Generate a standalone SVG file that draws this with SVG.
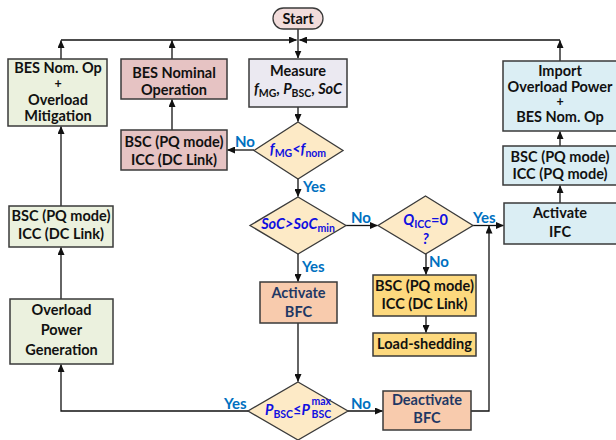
<svg xmlns="http://www.w3.org/2000/svg" width="616" height="440" viewBox="0 0 616 440">
  <style>
    .box { stroke: #3a3a3a; stroke-width: 1.5; }
    .green { fill: #ebf1de; }
    .pink { fill: #e6c3c3; }
    .lav { fill: #ebe9f1; }
    .blue { fill: #dbeef4; }
    .peach { fill: #f8cbad; }
    .yellow { fill: #fdd97e; }
    .dia { fill: #fdeac6; stroke: #3a3a3a; stroke-width: 1.3; }
    .t { font-family: Lato, "Open Sans", sans-serif; font-weight: bold; font-size: 14.5px; fill: #111; text-anchor: middle; }
    .plus { font-size: 12.5px; }
    .navy { fill: #1f3864; }
    .cond { font-family: Lato, "Open Sans", sans-serif; font-weight: bold; font-style: italic; font-size: 14.5px; fill: #1010e0; }
    .sub { font-style: normal; font-size: 10.5px; }
    .lbl { font-family: Lato, "Open Sans", sans-serif; font-weight: bold; font-size: 15px; fill: #0070c0; }
    .wire { fill: none; stroke: #111; stroke-width: 1.3; }
  </style>
  <defs>
    <marker id="arr" markerWidth="8" markerHeight="7" refX="7.5" refY="3.5" orient="auto" markerUnits="userSpaceOnUse">
      <path d="M0,0 L8,3.5 L0,7 z" fill="#111"/>
    </marker>
  </defs>

  <rect width="616" height="440" fill="#fff"/>

  <!-- connectors -->
  <g id="connectors">
    <path class="wire" d="M298,29 V58" marker-end="url(#arr)"/>
    <path class="wire" d="M61,40 H296.5" marker-end="url(#arr)"/>
    <path class="wire" d="M560,40 H299.5" marker-end="url(#arr)"/>
    <path class="wire" d="M61,59 V40.5" marker-end="url(#arr)"/>
    <path class="wire" d="M172,59 V40.5" marker-end="url(#arr)"/>
    <path class="wire" d="M560,61 V40.5" marker-end="url(#arr)"/>
    <path class="wire" d="M172,130 V99.5" marker-end="url(#arr)"/>
    <path class="wire" d="M298,107 V121.5" marker-end="url(#arr)"/>
    <path class="wire" d="M254,150 H227.5" marker-end="url(#arr)"/>
    <path class="wire" d="M298,179 V196.5" marker-end="url(#arr)"/>
    <path class="wire" d="M346,225.5 H377.5" marker-end="url(#arr)"/>
    <path class="wire" d="M473,225.5 H503.5" marker-end="url(#arr)"/>
    <path class="wire" d="M560,203 V185.5" marker-end="url(#arr)"/>
    <path class="wire" d="M560,146 V131.5" marker-end="url(#arr)"/>
    <path class="wire" d="M426,254 V274.5" marker-end="url(#arr)"/>
    <path class="wire" d="M426,316 V332.5" marker-end="url(#arr)"/>
    <path class="wire" d="M298,254 V281.5" marker-end="url(#arr)"/>
    <path class="wire" d="M298,323 V381.5" marker-end="url(#arr)"/>
    <path class="wire" d="M348,411 H382.5" marker-end="url(#arr)"/>
    <path class="wire" d="M471,411 H489 V226" marker-end="url(#arr)"/>
    <path class="wire" d="M248,411 H61 V364.5" marker-end="url(#arr)"/>
    <path class="wire" d="M61,299 V247.5" marker-end="url(#arr)"/>
    <path class="wire" d="M61,206 V126.5" marker-end="url(#arr)"/>
  </g>

  <g id="start">
    <rect x="273" y="8" width="50" height="21" rx="10.5" fill="#f2dcdb" stroke="#3a3a3a" stroke-width="1.3"/>
    <text class="t" x="298" y="24">Start</text>
  </g>

  <g id="measure">
    <rect class="box lav" x="249" y="59" width="98" height="48"/>
    <text class="t" x="298" y="76">Measure</text>
    <text class="t" x="298" y="94"><tspan font-style="italic">f</tspan><tspan class="sub" dy="3">MG</tspan><tspan dy="-3">, </tspan><tspan font-style="italic">P</tspan><tspan class="sub" dy="3">BSC</tspan><tspan dy="-3">, </tspan><tspan font-style="italic">SoC</tspan></text>
  </g>

  <g id="bes-nom-mitigation">
    <rect class="box green" x="8" y="59" width="99" height="67"/>
    <text class="t" x="58" y="73">BES Nom. Op</text>
    <text class="t plus" x="58" y="87.5">+</text>
    <text class="t" x="58" y="105">Overload</text>
    <text class="t" x="58" y="121">Mitigation</text>
  </g>

  <g id="bes-nominal">
    <rect class="box pink" x="121" y="59" width="106" height="40"/>
    <text class="t" x="174" y="78">BES Nominal</text>
    <text class="t" x="174" y="95">Operation</text>
  </g>

  <g id="bsc-dc-pink">
    <rect class="box pink" x="121" y="130" width="106" height="40"/>
    <text class="t" x="174" y="147">BSC (PQ mode)</text>
    <text class="t" x="174" y="165">ICC (DC Link)</text>
  </g>

  <g id="cond-freq">
    <polygon class="dia" points="298,122 343,150.5 298,179 254,150.5"/>
    <text class="cond" x="298" y="154" text-anchor="middle">f<tspan class="sub" dy="3">MG</tspan><tspan dy="-3">&lt;f</tspan><tspan class="sub" dy="3">nom</tspan></text>
  </g>

  <g id="cond-soc">
    <polygon class="dia" points="298,197 346,225.5 298,254 250,225.5"/>
    <text class="cond" x="298" y="229" text-anchor="middle">SoC&gt;SoC<tspan class="sub" dy="3">min</tspan></text>
  </g>

  <g id="cond-qicc">
    <polygon class="dia" points="425.5,196 473,225.5 425.5,254 378,225.5"/>
    <text class="cond" x="425.5" y="225" text-anchor="middle">Q<tspan class="sub" dy="3">ICC</tspan><tspan dy="-3" font-style="normal">=0</tspan></text>
    <text class="cond" x="425.5" y="244" text-anchor="middle" font-style="normal">?</text>
  </g>

  <g id="cond-pbsc">
    <polygon class="dia" points="298,382 348,411 298,440 248,411"/>
    <text class="cond" x="265" y="415">P<tspan class="sub" dy="3">BSC</tspan><tspan dy="-3" font-style="normal">≤</tspan>P</text>
    <text class="cond" x="311.5" y="405"><tspan class="sub">max</tspan></text>
    <text class="cond" x="311.5" y="418"><tspan class="sub">BSC</tspan></text>
  </g>

  <g id="activate-bfc">
    <rect class="box peach" x="260" y="282" width="77" height="41"/>
    <text class="t navy" x="298.5" y="298">Activate</text>
    <text class="t navy" x="298.5" y="317">BFC</text>
  </g>

  <g id="deactivate-bfc">
    <rect class="box peach" x="383" y="391" width="88" height="39"/>
    <text class="t navy" x="427" y="405">Deactivate</text>
    <text class="t navy" x="427" y="423">BFC</text>
  </g>

  <g id="bsc-dc-yellow">
    <rect class="box yellow" x="373" y="275" width="103" height="41"/>
    <text class="t" x="424.5" y="291">BSC (PQ mode)</text>
    <text class="t" x="424.5" y="309">ICC (DC Link)</text>
  </g>

  <g id="load-shedding">
    <rect class="box yellow" x="373" y="333" width="103" height="23"/>
    <text class="t" x="424.5" y="349">Load-shedding</text>
  </g>

  <g id="activate-ifc">
    <rect class="box blue" x="504" y="203" width="114" height="41"/>
    <text class="t" x="560" y="218">Activate</text>
    <text class="t" x="560" y="237">IFC</text>
  </g>

  <g id="bsc-pq-blue">
    <rect class="box blue" x="503" y="146" width="115" height="39"/>
    <text class="t" x="560" y="162">BSC (PQ mode)</text>
    <text class="t" x="560" y="179">ICC (PQ mode)</text>
  </g>

  <g id="import-overload">
    <rect class="box blue" x="503" y="61" width="115" height="70"/>
    <text class="t" x="560" y="76">Import</text>
    <text class="t" x="560" y="92">Overload Power</text>
    <text class="t plus" x="560" y="106">+</text>
    <text class="t" x="560" y="122">BES Nom. Op</text>
  </g>

  <g id="bsc-dc-green">
    <rect class="box green" x="9" y="206" width="104" height="41"/>
    <text class="t" x="61" y="221">BSC (PQ mode)</text>
    <text class="t" x="61" y="239">ICC (DC Link)</text>
  </g>

  <g id="overload-gen">
    <rect class="box green" x="10" y="299" width="103" height="65"/>
    <text class="t" x="61.5" y="315">Overload</text>
    <text class="t" x="61.5" y="335">Power</text>
    <text class="t" x="61.5" y="355">Generation</text>
  </g>

  <!-- branch labels -->
  <g id="labels">
    <text class="lbl" x="235" y="147">No</text>
    <text class="lbl" x="303" y="192">Yes</text>
    <text class="lbl" x="351" y="223">No</text>
    <text class="lbl" x="473" y="223">Yes</text>
    <text class="lbl" x="429" y="267">No</text>
    <text class="lbl" x="302" y="272">Yes</text>
    <text class="lbl" x="224" y="409">Yes</text>
    <text class="lbl" x="351" y="409">No</text>
  </g>
</svg>
